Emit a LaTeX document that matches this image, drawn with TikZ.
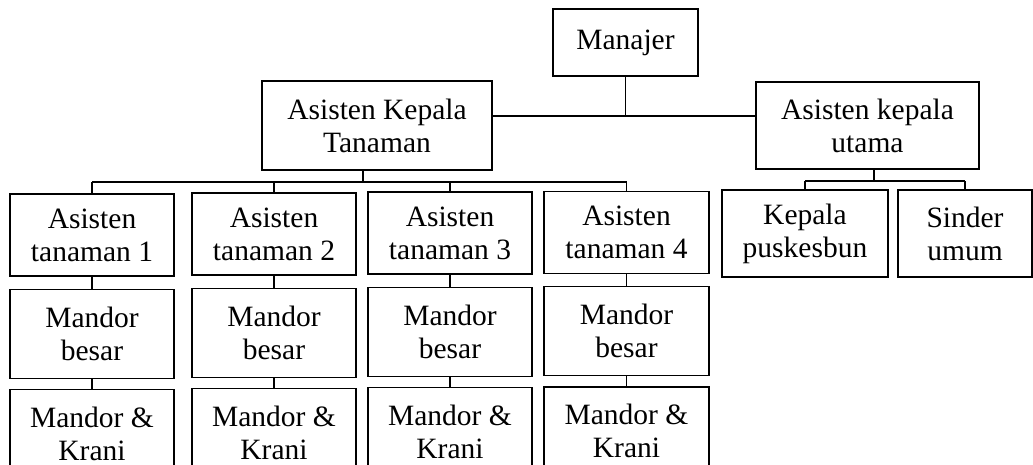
\documentclass[tikz,border=0pt]{standalone}
\usepackage{fontspec}
\setmainfont{Liberation Serif}
\usetikzlibrary{positioning}

\begin{document}
\begin{tikzpicture}[
  x=1pt, y=-1pt,
  unitbox/.style={
    draw,
    line width=1.2pt,
    align=center,
    inner sep=0pt,
    font=\fontsize{29.5}{33}\selectfont
  },
  colbox/.style={
    unitbox,
    minimum width=164pt,
    minimum height=82pt
  },
  mandorbox/.style={
    colbox,
    minimum height=89pt
  },
  link/.style={line width=1.2pt}
]
  \useasboundingbox (0,0) rectangle (1033,464);

  % --- TOP: Manajer and the two head assistants ---
  \node[unitbox, minimum width=145pt, minimum height=67pt] (man) at (625.5,42.5) {Manajer};
  \node[unitbox, minimum width=230pt, minimum height=89pt] (akt) at (377,125.5) {Asisten Kepala\\Tanaman};
  \node[unitbox, minimum width=223pt, minimum height=87pt] (aku) at (867.5,125.5) {Asisten kepala\\utama};

  % --- LEFT: four plantation columns ---
  % Column 1
  \node[colbox] (at1) at (92,235) {Asisten\\tanaman 1};
  \node[mandorbox, below=12pt of at1] (mb1) {Mandor\\besar};
  \node[mandorbox, below=10pt of mb1] (mk1) {Mandor \&\\Krani};

  % Column 2
  \node[colbox] (at2) at (274,234) {Asisten\\tanaman 2};
  \node[mandorbox, below=12pt of at2] (mb2) {Mandor\\besar};
  \node[mandorbox, below=10pt of mb2] (mk2) {Mandor \&\\Krani};

  % Column 3
  \node[colbox] (at3) at (450,233) {Asisten\\tanaman 3};
  \node[mandorbox, below=12pt of at3] (mb3) {Mandor\\besar};
  \node[mandorbox, below=10pt of mb3] (mk3) {Mandor \&\\Krani};

  % Column 4
  \node[colbox, minimum width=165pt] (at4) at (626.5,232.5) {Asisten\\tanaman 4};
  \node[mandorbox, minimum width=165pt, below=12pt of at4] (mb4) {Mandor\\besar};
  \node[mandorbox, minimum width=165pt, below=10pt of mb4] (mk4) {Mandor \&\\Krani};

  % --- RIGHT: under Asisten kepala utama ---
  \node[unitbox, minimum width=166pt, minimum height=87pt] (kp) at (805,233.5) {Kepala\\puskesbun};
  \node[unitbox, minimum width=134pt, minimum height=87pt] (su) at (965,233.5) {Sinder\\umum};

  % Connecting lines
  \coordinate (hub) at (625.5,116);
  \draw[link] (man.south) -- (hub);
  \draw[link] (akt.east |- hub) -- (aku.west |- hub);

  \coordinate (lbus) at (363,182);
  \draw[link] (akt.south -| lbus) -- (lbus);
  \draw[link] (at1.north |- lbus) -- (at4.north |- lbus);
  \draw[link] (at1.north |- lbus) -- (at1.north)
              (at2.north |- lbus) -- (at2.north)
              (at3.north |- lbus) -- (at3.north)
              (at4.north |- lbus) -- (at4.north);

  \draw[link] (at1) -- (mb1);
  \draw[link] (mb1) -- (mk1);
  \draw[link] (at2) -- (mb2);
  \draw[link] (mb2) -- (mk2);
  \draw[link] (at3) -- (mb3);
  \draw[link] (mb3) -- (mk3);
  \draw[link] (at4) -- (mb4);
  \draw[link] (mb4) -- (mk4);

  \coordinate (rbus) at (874,181);
  \draw[link] (aku.south -| rbus) -- (rbus);
  \draw[link] (kp.north |- rbus) -- (su.north |- rbus);
  \draw[link] (kp.north |- rbus) -- (kp.north)
              (su.north |- rbus) -- (su.north);

\end{tikzpicture}
\end{document}
